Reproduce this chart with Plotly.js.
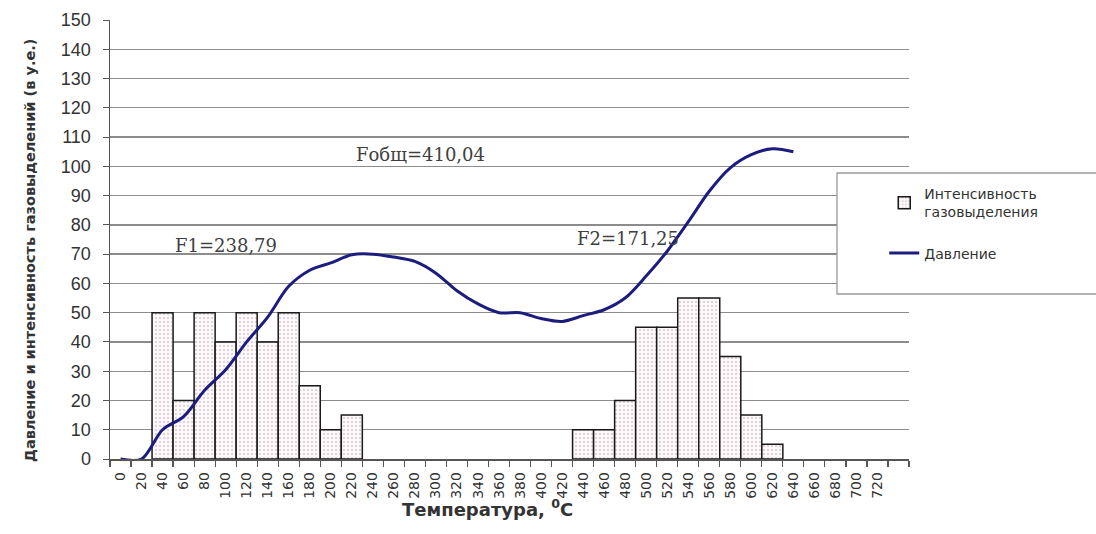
<!DOCTYPE html>
<html>
<head>
<meta charset="utf-8">
<script src="https://cdn.plot.ly/plotly-3.0.1.min.js"></script>
<style>
  html, body { margin: 0; padding: 0; background: #fff; }
  #chart { width: 1096px; height: 534px; }
</style>
</head>
<body>
<div id="chart"></div>
<script>
// Temperature categories on the x axis, °C
const temperatures = [0, 20, 40, 60, 80, 100, 120, 140, 160, 180, 200, 220, 240, 260, 280, 300,
  320, 340, 360, 380, 400, 420, 440, 460, 480, 500, 520, 540, 560, 580, 600, 620, 640,
  660, 680, 700, 720];
const tickLabels = temperatures.map(String);

// Gas release intensity (bars)
const intensityTemps = [40, 60, 80, 100, 120, 140, 160, 180, 200, 220,
  440, 460, 480, 500, 520, 540, 560, 580, 600, 620];
const intensity = [50, 20, 50, 40, 50, 40, 50, 25, 10, 15,
  10, 10, 20, 45, 45, 55, 55, 35, 15, 5];

// Pressure (line)
const pressureTemps = [0, 20, 40, 60, 80, 100, 120, 140, 160, 180, 200, 220, 240, 260, 280, 300,
  320, 340, 360, 380, 400, 420, 440, 460, 480, 500, 520, 540, 560, 580, 600, 620, 640];
const pressure = [0, 0, 10, 14.5, 23.5, 30.5, 40, 48.5, 59, 64.5, 67, 69.8, 70, 69, 67.5, 63.5,
  57.5, 53, 50, 50, 48, 47, 49, 51, 55, 62.5, 71, 81, 91.5, 99.5, 104, 106, 105];

// Area labels
const areaLabels = ['F1=238,79', 'Fобщ=410,04', 'F2=171,25'];

const sans = 'Liberation Sans, Arial, sans-serif';
const wide = 'DejaVu Sans, Verdana, sans-serif';
const serif = 'DejaVu Serif, Liberation Serif, serif';

const traces = [
  {
    type: 'bar',
    name: 'Интенсивность<br>газовыделения',
    x: intensityTemps,
    y: intensity,
    width: 20,
    legendgroup: 'a',
    marker: {
      color: '#fdf9fb',
      line: { color: '#1a1a1a', width: 1.5 },
      pattern: { shape: '.', fgcolor: '#d8cad1', bgcolor: '#fdf9fb', size: 4, solidity: 0.22 }
    },
    hoverinfo: 'x+y'
  },
  {
    type: 'scatter',
    mode: 'lines',
    name: 'Давление',
    x: pressureTemps,
    y: pressure,
    legendgroup: 'b',
    line: { color: '#1c1c7e', width: 3, shape: 'spline', smoothing: 0.9 }
  }
];

const layout = {
  width: 1096,
  height: 534,
  margin: { l: 110, r: 187, t: 20, b: 75 },
  paper_bgcolor: '#ffffff',
  plot_bgcolor: '#ffffff',
  font: { family: sans, color: '#333333' },
  bargap: 0,
  showlegend: true,
  legend: {
    x: 0.969, xanchor: 'left',
    y: 0.64, yanchor: 'top',
    bgcolor: 'rgba(0,0,0,0)',
    borderwidth: 0,
    tracegroupgap: 20,
    font: { family: wide, size: 14, color: '#333333' }
  },
  xaxis: {
    type: 'linear',
    range: [-10, 750],
    tickmode: 'array',
    tickvals: temperatures,
    ticktext: tickLabels,
    tickangle: -90,
    ticks: '',
    ticklabelstandoff: 6,
    tickfont: { family: wide, size: 14, color: '#333333' },
    showgrid: false,
    zeroline: false,
    showline: true,
    linecolor: '#555555',
    linewidth: 1.5,
    minor: { tick0: -10, dtick: 20, ticks: 'outside', ticklen: 6, tickcolor: '#555555', tickwidth: 1.2, showgrid: false }
  },
  yaxis: {
    range: [0, 150],
    dtick: 10,
    ticks: 'outside',
    ticklen: 6,
    tickcolor: '#555555',
    ticklabelstandoff: 8,
    tickfont: { family: sans, size: 18, color: '#333333' },
    showgrid: true,
    gridcolor: '#8c8c8c',
    gridwidth: 1.3,
    zeroline: false,
    showline: true,
    linecolor: '#555555',
    linewidth: 1.5
  },
  shapes: [
    {
      type: 'rect', xref: 'paper', yref: 'paper', layer: 'above',
      x0: (837 - 110) / 799, x1: (1100 - 110) / 799,
      y0: (459 - 294) / 439, y1: (459 - 173) / 439,
      fillcolor: '#ffffff',
      line: { color: '#9a9a9a', width: 1.3 }
    }
  ],
  annotations: [
    { x: 100, y: 73, xref: 'x', yref: 'y', text: areaLabels[0], showarrow: false,
      font: { family: serif, size: 18, color: '#404040' } },
    { x: 285, y: 104, xref: 'x', yref: 'y', text: areaLabels[1], showarrow: false,
      font: { family: serif, size: 18, color: '#404040' } },
    { x: 483, y: 75.5, xref: 'x', yref: 'y', text: areaLabels[2], showarrow: false,
      font: { family: serif, size: 18, color: '#404040' } },
    { x: (487 - 110) / 799, y: -(522 - 459) / 439, xref: 'paper', yref: 'paper',
      text: '<b>Температура, <sup>0</sup>C</b>', showarrow: false,
      font: { family: wide, size: 18, color: '#333333' } },
    { x: -(110 - 20) / 799, y: (459 - 251) / 439, xref: 'paper', yref: 'paper',
      text: '<b>Давление и интенсивность газовыделений (в у.е.)</b>', textangle: -90, showarrow: false,
      font: { family: wide, size: 14.5, color: '#333333' } }
  ]
};

Plotly.newPlot('chart', traces, layout, { displayModeBar: false, staticPlot: true });
</script>
</body>
</html>
